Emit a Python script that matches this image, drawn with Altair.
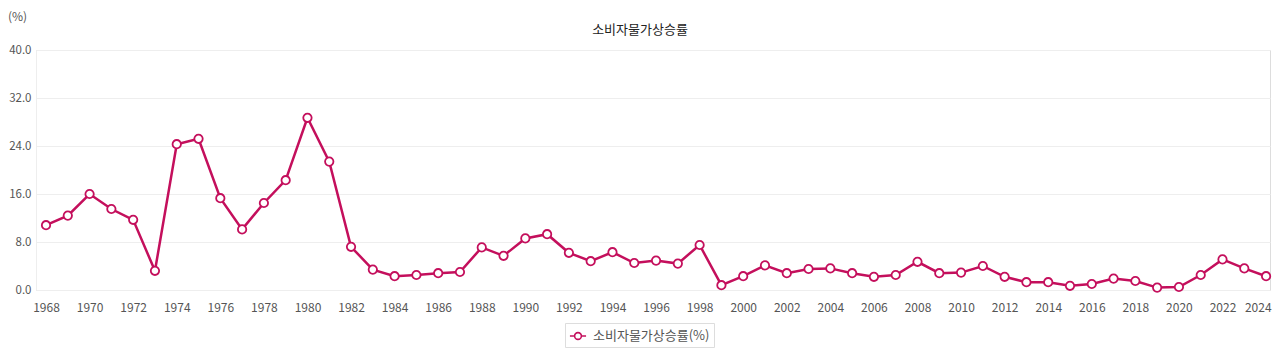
import altair as alt
import pandas as pd

years = list(range(1968, 2025))
values = [10.8, 12.4, 16.0, 13.5, 11.7, 3.2, 24.3, 25.2, 15.3, 10.1,
          14.5, 18.3, 28.7, 21.4, 7.2, 3.4, 2.3, 2.5, 2.8, 3.0,
          7.1, 5.7, 8.6, 9.3, 6.2, 4.8, 6.3, 4.5, 4.9, 4.4,
          7.5, 0.8, 2.3, 4.1, 2.8, 3.5, 3.6, 2.8, 2.2, 2.5,
          4.7, 2.8, 2.9, 4.0, 2.2, 1.3, 1.3, 0.7, 1.0, 1.9,
          1.5, 0.4, 0.5, 2.5, 5.1, 3.6, 2.3]
series_name = "소비자물가상승률(%)"
title_text = ["소비자물가상승률"]
unit_text = ["(%)"]
tick_years = list(range(1968, 2025, 2))
y_ticks = [0, 8, 16, 24, 32, 40]

df = pd.DataFrame({"year": years, "value": values, "series": series_name})

COLOR = "#c40f5c"
FONT = "Noto Sans CJK KR"

x = alt.X("year:Q",
          scale=alt.Scale(domain=[1967.54, 2024.18], nice=False, zero=False),
          axis=alt.Axis(values=tick_years, format="d", grid=False, domain=False,
                        ticks=False, labelPadding=12, labelFontSize=12,
                        labelColor="#555", labelFont=FONT, title=None,
                        labelFlush=False,
                        labelAlign={"condition": {"test": "datum.value == 2024", "value": "right"}, "value": "center"},
                        labelOffset={"condition": {"test": "datum.value == 2024", "value": 5}, "value": 0}))
y = alt.Y("value:Q",
          scale=alt.Scale(domain=[0, 40], nice=False),
          axis=alt.Axis(values=y_ticks, format=".1f", gridColor="#eeeeee",
                        domainColor="#eeeeee", ticks=False, labelPadding=5,
                        labelFontSize=11.5, labelColor="#555", labelFont=FONT,
                        title=None))

color = alt.Color("series:N",
                  scale=alt.Scale(domain=[series_name], range=[COLOR]),
                  legend=alt.Legend(title=None, orient="none", legendX=529, legendY=273,
                                    symbolType="M-1,0H-0.42M0.42,0H1M0.42,0A0.42,0.42 0 1,1 -0.42,0A0.42,0.42 0 1,1 0.42,0Z",
                                    symbolFillColor="white", symbolStrokeColor=COLOR,
                                    symbolStrokeWidth=1.6, symbolSize=260,
                                    labelFontSize=13, labelColor="#555", labelFont=FONT,
                                    strokeColor="#dddddd", padding=4, labelOffset=6))

line = alt.Chart(df).mark_line(strokeWidth=2.5, color=COLOR).encode(x=x, y=y, color=color)
pts = alt.Chart(df).mark_point(filled=True, fill="white", stroke=COLOR, strokeWidth=1.8,
                               size=70, opacity=1, shape="circle").encode(x=x, y=y)

title = alt.Chart(pd.DataFrame({"t": title_text})).mark_text(
    font=FONT, fontSize=13, color="#222", align="center", baseline="middle"
).encode(text="t:N", x=alt.value(604), y=alt.value(-20))

unit = alt.Chart(pd.DataFrame({"t": unit_text})).mark_text(
    font=FONT, fontSize=12, color="#555", align="left", baseline="middle"
).encode(text="t:N", x=alt.value(-28), y=alt.value(-33))

chart = (line + pts + title + unit).properties(
    width=1234, height=240,
    padding={"left": 28, "top": 42, "right": 2, "bottom": 58},
    autosize=alt.AutoSizeParams(type="none"),
).configure_view(stroke=None).configure(background="white")

chart.save("out.html", embed_options={"renderer": "svg", "actions": False})
